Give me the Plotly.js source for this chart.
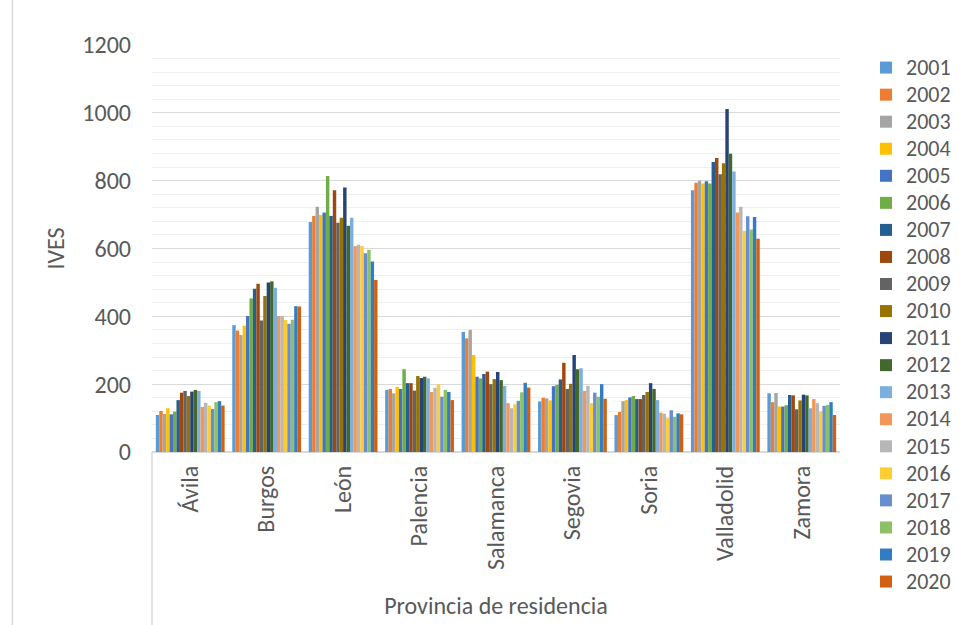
<!DOCTYPE html>
<html><head><meta charset="utf-8">
<script src="https://cdn.plot.ly/plotly-3.0.1.min.js"></script>
<style>html,body{margin:0;padding:0;background:#fff}#chart{width:959px;height:625px}</style>
</head><body><div id="chart"></div>
<script>
const provinces = ["Ávila","Burgos","León","Palencia","Salamanca","Segovia","Soria","Valladolid","Zamora"];
const years = ["2001","2002","2003","2004","2005","2006","2007","2008","2009","2010","2011","2012","2013","2014","2015","2016","2017","2018","2019","2020"];
// values per province, one entry per year 2001..2020
const avila      = [109,121,112,129,111,119,153,175,180,165,178,183,180,133,145,137,127,147,150,137];
const burgos     = [374,358,345,372,401,453,481,496,388,460,500,503,484,401,401,389,378,390,430,429];
const leon       = [678,696,723,699,706,814,696,772,676,691,780,667,691,607,611,607,586,596,562,507];
const palencia   = [183,186,173,192,186,244,203,203,181,224,218,222,217,177,189,200,163,183,177,153];
const salamanca  = [354,335,360,286,222,217,230,237,200,215,236,212,195,144,129,141,151,176,204,190];
const segovia    = [149,160,158,152,194,198,214,263,186,201,286,244,247,180,195,144,175,163,200,157];
const soria      = [109,118,150,153,161,165,156,156,168,177,203,186,153,116,113,101,123,104,114,111];
const valladolid = [772,794,800,792,798,792,855,867,819,851,1011,879,827,706,723,652,695,656,693,629];
const zamora     = [173,147,174,134,134,138,168,167,126,152,169,167,129,156,144,120,136,139,147,109];
const colors = ["#5B9BD5","#ED7D31","#A5A5A5","#FFC000","#4472C4","#70AD47","#255E91","#9E480E","#636363","#997300","#264478","#43682B","#7CAFDD","#F1975A","#B7B7B7","#FFCD33","#698ED0","#8CC168","#327DC2","#D26012"];
const byProvince = [avila,burgos,leon,palencia,salamanca,segovia,soria,valladolid,zamora];

const traces = years.map((yr, j) => ({
  type: "bar",
  name: '<span style="font-size:22px">' + yr + '</span>',
  x: provinces,
  y: byProvince.map(p => p[j]),
  marker: {color: colors[j], line: {width: 0}},
  hoverinfo: "x+y"
}));

const font = "Carlito, Calibri, 'Liberation Sans', Arial, sans-serif";
const layout = {
  width: 959, height: 625,
  margin: {l: 152, r: 119, t: 45, b: 173},
  paper_bgcolor: "#fff", plot_bgcolor: "#fff",
  barmode: "group", bargap: 0.1, bargroupgap: 0,
  font: {family: font, color: "#595959", size: 24},
  showlegend: true,
  legend: {xref: "container", x: 0.903, xanchor: "left", y: 0.99, yanchor: "top",
           font: {size: 18.5, color: "#595959"}, tracegroupgap: 0,
           itemwidth: 30, maxheight: 620, bgcolor: "rgba(0,0,0,0)"},
  xaxis: {
    type: "category", tickangle: -90, showgrid: false, zeroline: false,
    showline: false, ticks: "", automargin: false, ticklabelstandoff: 8,
    tickfont: {size: 24, color: "#595959"},
    title: {text: "Provincia de residencia", font: {size: 24, color: "#595959"}, standoff: 28}
  },
  yaxis: {
    range: [0, 1200], dtick: 200, tick0: 0, automargin: false,
    showgrid: true, gridcolor: "#D9D9D9", gridwidth: 1,
    minor: {dtick: 40, showgrid: true, gridcolor: "#EFEFEF", gridwidth: 1},
    zeroline: true, zerolinecolor: "#D9D9D9", zerolinewidth: 1.5,
    showline: false, ticks: "", ticklabelstandoff: 20,
    tickfont: {size: 24, color: "#595959"},
    title: {text: "IVES", font: {size: 24, color: "#595959"}, standoff: 10}
  },
  shapes: [
    {type: "line", xref: "paper", yref: "paper", x0: 0, x1: 0, y0: 0, y1: -0.43,
     line: {color: "#D9D9D9", width: 1.5}},
    {type: "line", xref: "paper", yref: "paper", x0: -0.203, x1: -0.203, y0: -0.45, y1: 1.12,
     line: {color: "#D9D9D9", width: 1.5}}
  ]
};
Plotly.newPlot("chart", traces, layout, {displayModeBar: false, staticPlot: true});
</script></body></html>
